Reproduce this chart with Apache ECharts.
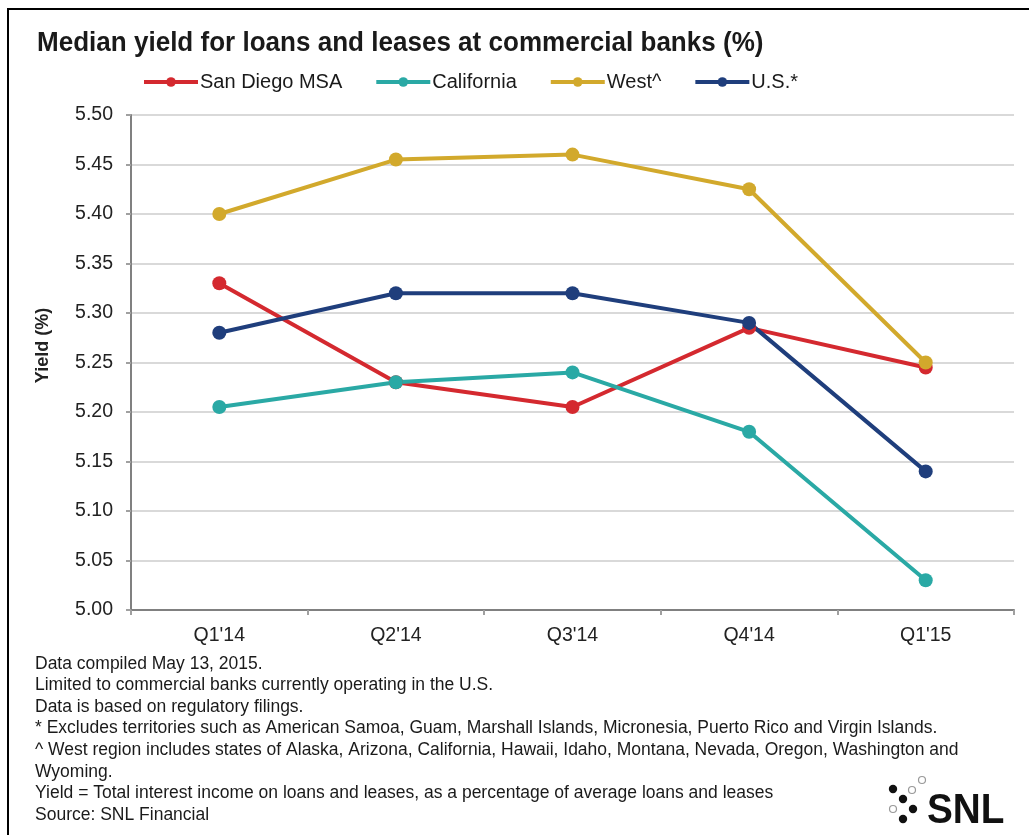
<!DOCTYPE html>
<html>
<head>
<meta charset="utf-8">
<script src="https://cdn.jsdelivr.net/npm/echarts@6/dist/echarts.min.js"></script>
<style>
html,body{margin:0;padding:0;background:#fff;}
#chart{width:1029px;height:835px;}
</style>
</head>
<body>
<div id="chart"></div>
<script>
const categories = ["Q1'14", "Q2'14", "Q3'14", "Q4'14", "Q1'15"];
const sanDiego = [5.33, 5.23, 5.205, 5.285, 5.245];
const california = [5.205, 5.23, 5.24, 5.18, 5.03];
const west = [5.40, 5.455, 5.46, 5.425, 5.25];
const us = [5.28, 5.32, 5.32, 5.29, 5.14];
const yTicks = { min: 5.00, max: 5.50, interval: 0.05 };
const titleText = 'Median yield for loans and leases at commercial banks (%)';
const footnotes = [
  'Data compiled May 13, 2015.',
  'Limited to commercial banks currently operating in the U.S.',
  'Data is based on regulatory filings.',
  '* Excludes territories such as American Samoa, Guam, Marshall Islands, Micronesia, Puerto Rico and Virgin Islands.',
  '^ West region includes states of Alaska, Arizona, California, Hawaii, Idaho, Montana, Nevada, Oregon, Washington and',
  'Wyoming.',
  'Yield = Total interest income on loans and leases, as a percentage of average loans and leases',
  'Source: SNL Financial'
];

const chart = echarts.init(document.getElementById('chart'));
const sans = '"Liberation Sans", Arial, sans-serif';

function mk(name, data, color) {
  return {
    name, type: 'line', data,
    symbol: 'circle', symbolSize: 14,
    lineStyle: { width: 4, color },
    itemStyle: { color },
    animation: false
  };
}

const graphics = [
  { type: 'rect', shape: { x: 8, y: 9, width: 1060, height: 900 }, style: { fill: 'none', stroke: '#000', lineWidth: 2 }, z: 100 },
  { type: 'text', x: 37, y: 29, scaleX: 0.93, originX: 0, style: { text: titleText, font: 'bold 28px ' + sans, fill: '#1a1a1a' } },
  { type: 'text', left: 35, top: 653, style: { text: footnotes.join('\n'), font: '17.5px ' + sans, fill: '#1a1a1a', lineHeight: 21.6 } },
  { type: 'text', x: 927, y: 790, scaleX: 0.9, originX: 0, style: { text: 'SNL', font: 'bold 43px ' + sans, fill: '#111' } },
  { type: 'circle', shape: { cx: 893, cy: 789, r: 4.2 }, style: { fill: '#111' } },
  { type: 'circle', shape: { cx: 903, cy: 799, r: 4.2 }, style: { fill: '#111' } },
  { type: 'circle', shape: { cx: 913, cy: 809, r: 4.2 }, style: { fill: '#111' } },
  { type: 'circle', shape: { cx: 903, cy: 819, r: 4.2 }, style: { fill: '#111' } },
  { type: 'circle', shape: { cx: 912, cy: 790, r: 3.5 }, style: { fill: '#fff', stroke: '#999', lineWidth: 1.2 } },
  { type: 'circle', shape: { cx: 922, cy: 780, r: 3.5 }, style: { fill: '#fff', stroke: '#999', lineWidth: 1.2 } },
  { type: 'circle', shape: { cx: 893, cy: 809, r: 3.5 }, style: { fill: '#fff', stroke: '#999', lineWidth: 1.2 } }
];

chart.setOption({
  animation: false,
  backgroundColor: '#fff',
  legend: {
    left: 137, top: 67,
    itemWidth: 54, itemHeight: 12, itemGap: 32,
    lineStyle: { width: 4 },
    textStyle: { fontFamily: sans, fontSize: 20, color: '#1a1a1a', padding: [0, 0, 0, -3] },
    data: ['San Diego MSA', 'California', 'West^', 'U.S.*']
  },
  grid: { left: 131, right: 15, top: 115, bottom: 225, containLabel: false },
  xAxis: {
    type: 'category', data: categories, boundaryGap: true,
    axisLine: { lineStyle: { color: '#808080', width: 2 } },
    axisTick: { show: true, length: 5, lineStyle: { color: '#a0a0a0', width: 2 } },
    axisLabel: { fontFamily: sans, fontSize: 19.5, color: '#222', margin: 16 }
  },
  yAxis: {
    type: 'value', min: yTicks.min, max: yTicks.max, interval: yTicks.interval,
    name: 'Yield (%)', nameLocation: 'middle', nameGap: 79, nameRotate: 90,
    nameTextStyle: { fontFamily: sans, fontWeight: 'bold', fontSize: 18, color: '#222', padding: [0, 0, 0, 34] },
    axisLine: { show: true, lineStyle: { color: '#808080', width: 2 } },
    axisTick: { show: true, length: 5, lineStyle: { color: '#a0a0a0', width: 2 } },
    axisLabel: { fontFamily: sans, fontSize: 19.5, color: '#222', margin: 18, formatter: v => v.toFixed(2) },
    splitLine: { lineStyle: { color: '#d9d9d9', width: 2 } }
  },
  series: [
    mk('San Diego MSA', sanDiego, '#d4292f'),
    mk('California', california, '#2aa9a5'),
    mk('West^', west, '#d2a92c'),
    mk('U.S.*', us, '#1f3e7c')
  ],
  graphic: graphics
});
</script>
</body>
</html>
